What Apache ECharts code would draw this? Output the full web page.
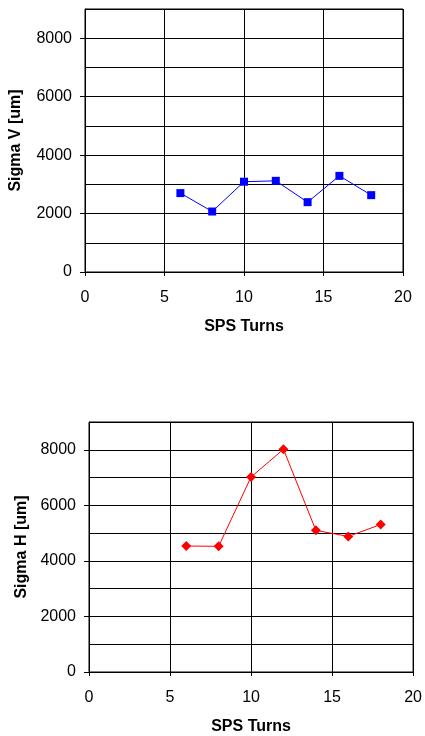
<!DOCTYPE html>
<html>
<head>
<meta charset="utf-8">
<style>html,body{margin:0;padding:0;background:#fff;}#c{width:425px;height:736px;}</style>
<script src="https://cdn.jsdelivr.net/npm/echarts@6/dist/echarts.min.js"></script>
</head>
<body>
<div id="c"></div>
<script>
const turns = [6, 8, 10, 12, 14, 16, 18];
const sigmaV = [2700, 2070, 3090, 3120, 2390, 3290, 2630];
const sigmaH = [4535, 4525, 7020, 8020, 5100, 4880, 5310];
const yTickLabels = [0, 2000, 4000, 6000, 8000];
const xTickLabels = [0, 5, 10, 15, 20];

const FONT = '"Liberation Sans", Arial, sans-serif';
const chart = echarts.init(document.getElementById('c'), null, {renderer: 'canvas'});

function xAxis(gi) {
  return {
    gridIndex: gi, type: 'value', min: 0, max: 20, interval: 5,
    name: 'SPS Turns', nameLocation: 'middle', nameGap: 47,
    nameTextStyle: {fontFamily: FONT, fontWeight: 'bold', fontSize: 16, color: '#000'},
    axisLine: {show: true, onZero: false, lineStyle: {color: '#000', width: 1}},
    axisTick: {show: true, length: 4, lineStyle: {color: '#000'}},
    axisLabel: {fontFamily: FONT, fontSize: 16, color: '#000', margin: 18, formatter: v => String(v)},
    splitLine: {show: true, lineStyle: {color: '#000', width: 1}}
  };
}
function yAxisMain(gi, name, gap) {
  return {
    gridIndex: gi, type: 'value', position: 'left', offset: 0, min: 0, max: 9000, interval: 1000,
    name: name, nameLocation: 'middle', nameGap: gap,
    nameTextStyle: {fontFamily: FONT, fontWeight: 'bold', fontSize: 16, color: '#000'},
    axisLine: {show: true, lineStyle: {color: '#000', width: 1}},
    axisTick: {show: true, length: 5, lineStyle: {color: '#000'}, customValues: yTickLabels},
    axisLabel: {fontFamily: FONT, fontSize: 16, color: '#000', margin: 13, customValues: yTickLabels, formatter: v => String(v)},
    splitLine: {show: false}
  };
}
function yAxisGrid(gi) {
  return {
    gridIndex: gi, type: 'value', position: 'left', offset: 0, min: 0, max: 9000, interval: 1000,
    axisLine: {show: false}, axisTick: {show: false}, axisLabel: {show: false},
    splitLine: {show: true, lineStyle: {color: '#000', width: 1}}
  };
}

chart.setOption({
  animation: false,
  backgroundColor: '#fff',
  grid: [
    {left: 85, top: 9, right: 22, bottom: 464, show: true, borderColor: '#000', borderWidth: 1, containLabel: false},
    {left: 89, top: 422, right: 10, bottom: 60, show: true, borderColor: '#000', borderWidth: 1, containLabel: false}
  ],
  xAxis: [xAxis(0), xAxis(1)],
  yAxis: [yAxisMain(0, 'Sigma V [um]', 61), yAxisMain(1, 'Sigma H [um]', 52), yAxisGrid(0), yAxisGrid(1)],
  series: [
    {
      type: 'line', xAxisIndex: 0, yAxisIndex: 0,
      data: turns.map((t, i) => [t, sigmaV[i]]),
      symbol: 'rect', symbolSize: 8,
      lineStyle: {color: '#0000FF', width: 1},
      itemStyle: {color: '#0000FF'}
    },
    {
      type: 'line', xAxisIndex: 1, yAxisIndex: 1,
      data: turns.map((t, i) => [t, sigmaH[i]]),
      symbol: 'diamond', symbolSize: 10,
      lineStyle: {color: '#FF0000', width: 1},
      itemStyle: {color: '#FF0000'}
    }
  ]
});
</script>
</body>
</html>
